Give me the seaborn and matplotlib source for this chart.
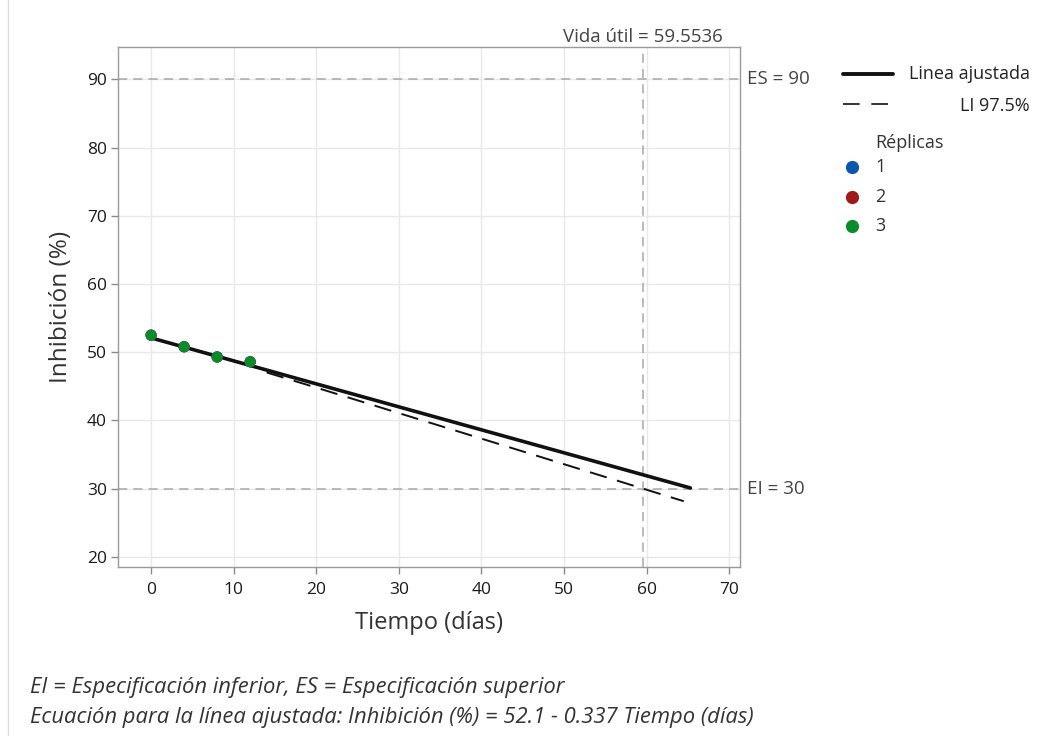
import numpy as np
import pandas as pd
import matplotlib
matplotlib.use("Agg")
import matplotlib.pyplot as plt
from matplotlib.lines import Line2D
import seaborn as sns

# ---- data ----
tiempo = [0, 4, 8, 12]
replica1 = [52.5, 50.8, 49.3, 48.6]
replica2 = [52.5, 50.8, 49.3, 48.6]
replica3 = [52.5, 50.8, 49.3, 48.6]
replicas = ["1", "2", "3"]
intercepto = 52.1
pendiente = -0.337
t_fit = [0, 65.3]
t_li = [14, 20, 30, 40, 50, 59.55, 64.5]
li_975 = [47.03, 44.81, 41.07, 37.33, 33.58, 30.0, 28.15]
es, ei = 90, 30
vida_util = 59.5536
x_ticks = [0, 10, 20, 30, 40, 50, 60, 70]
y_ticks = [20, 30, 40, 50, 60, 70, 80, 90]
colores = ["#0a56a8", "#9c1a1a", "#0d8a2c"]

sns.set_theme(style="white")
plt.rcParams["font.family"] = ["Open Sans", "DejaVu Sans"]

rows = []
for rep, vals in zip(replicas, [replica1, replica2, replica3]):
    for t, v in zip(tiempo, vals):
        rows.append({"Tiempo": t, "Inhibicion": v, "Réplica": rep})
df = pd.DataFrame(rows)
fit_df = pd.DataFrame({"Tiempo": t_fit,
                       "Inhibicion": [intercepto + pendiente * t for t in t_fit]})
li_df = pd.DataFrame({"Tiempo": t_li, "Inhibicion": li_975})

fig = plt.figure(figsize=(10.54, 7.36), dpi=100)
ax = fig.add_axes([0.112, 0.2296, 0.590, 0.706])

ax.set_xlim(-4.0, 71.3)
ax.set_ylim(18.5, 94.7)
ax.set_xticks(x_ticks)
ax.set_yticks(y_ticks)
ax.grid(True, color="#e8e8e8", linewidth=1.0)
ax.set_axisbelow(True)

ref_kw = dict(color="#a8a8a8", linewidth=1.1, linestyle=(0, (6, 4)), zorder=1)
ax.axhline(es, **ref_kw)
ax.axhline(ei, **ref_kw)
ax.axvline(vida_util, **ref_kw)

sns.lineplot(data=li_df, x="Tiempo", y="Inhibicion", ax=ax, color="#111111",
             linewidth=1.4, linestyle=(0, (9, 5.5)), legend=False, zorder=2)
sns.lineplot(data=fit_df, x="Tiempo", y="Inhibicion", ax=ax, color="#111111",
             linewidth=2.6, legend=False, zorder=3)
sns.scatterplot(data=df, x="Tiempo", y="Inhibicion", hue="Réplica",
                palette=colores, s=65, edgecolor="none", ax=ax,
                legend=False, zorder=4)

for sp in ax.spines.values():
    sp.set_color("#9a9a9a")
    sp.set_linewidth(1.0)
ax.tick_params(axis="both", direction="out", length=5, width=1, color="#8a8a8a",
               labelsize=12.5, labelcolor="#1a1a1a", bottom=True, left=True, pad=3)
ax.tick_params(axis="x", pad=6)
ax.set_xlabel("Tiempo (días)", fontsize=17, color="#333333", labelpad=9)
ax.set_ylabel("Inhibición (%)", fontsize=17.5, color="#333333", labelpad=10)

# reference labels
ax.text(vida_util, 94.9, f"Vida útil = {vida_util}", ha="center", va="bottom",
        fontsize=13.5, color="#444444")
ax.text(1.0115, es, "ES = 90", transform=ax.get_yaxis_transform(), ha="left",
        va="center", fontsize=13.5, color="#444444")
ax.text(1.0115, ei, "EI = 30", transform=ax.get_yaxis_transform(), ha="left",
        va="center", fontsize=13.5, color="#444444")

# legend (figure coords)
W, H = 1054, 736
def fx(px): return px / W
def fy(py): return 1 - py / H
fig.add_artist(Line2D([fx(843), fx(893)], [fy(74), fy(74)], color="#111111",
                      linewidth=2.8, transform=fig.transFigure))
fig.add_artist(Line2D([fx(843), fx(893)], [fy(104), fy(104)], color="#111111",
                      linewidth=1.2, linestyle=(0, (10, 7)), transform=fig.transFigure))
fig.text(fx(1030), fy(74), "Linea ajustada", ha="right", va="center",
         fontsize=13, color="#222222")
fig.text(fx(1030), fy(106), "LI 97.5%", ha="right", va="center",
         fontsize=13, color="#222222")
fig.text(fx(875), fy(143), "Réplicas", ha="left", va="center",
         fontsize=13, color="#333333")
for i, (rep, c) in enumerate(zip(replicas, colores)):
    yy = fy(167 + 29.5 * i)
    fig.add_artist(Line2D([fx(852)], [yy], marker="o", markersize=8.5,
                          color=c, linestyle="none", transform=fig.transFigure))
    fig.text(fx(875), yy, rep, ha="left", va="center", fontsize=13, color="#333333")

# footnotes
fig.text(fx(30), fy(687), "EI = Especificación inferior, ES = Especificación superior",
         ha="left", va="center", fontsize=15.8, style="italic", color="#333333")
fig.text(fx(30), fy(717),
         "Ecuación para la línea ajustada: Inhibición (%) = 52.1 - 0.337 Tiempo (días)",
         ha="left", va="center", fontsize=15.8, style="italic", color="#333333")

# left frame line
fig.add_artist(Line2D([fx(8), fx(8)], [0, 1], color="#dddddd", linewidth=1,
                      transform=fig.transFigure))

fig.savefig("out.png", dpi=100, facecolor="white")
